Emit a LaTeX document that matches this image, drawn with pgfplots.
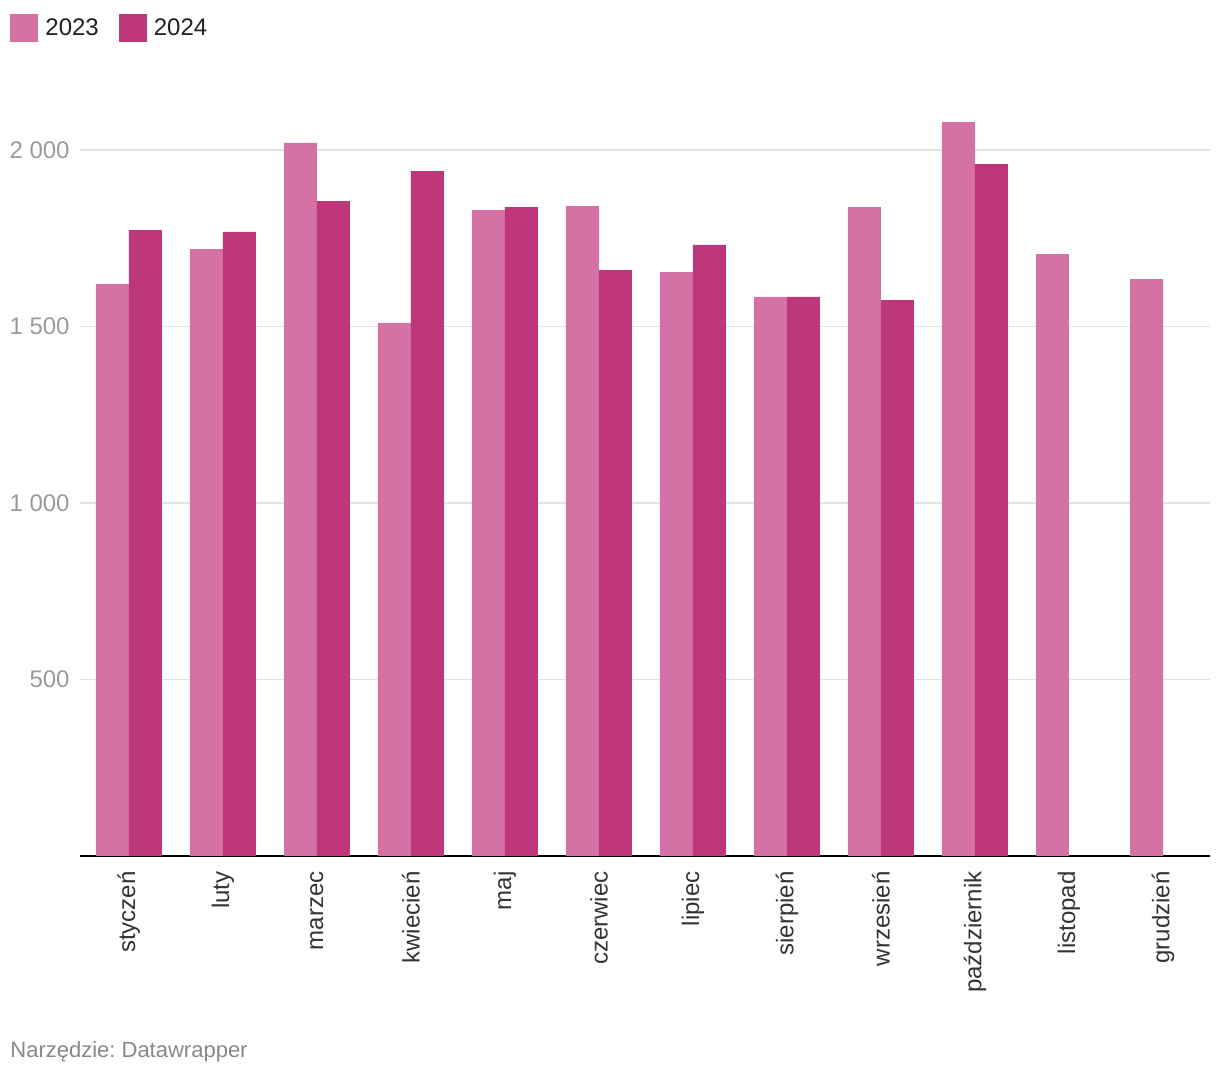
\documentclass[border=0pt]{standalone}
\usepackage{pgfplots}
\pgfplotsset{compat=1.18}
\usepackage{fontspec}
\setmainfont{Liberation Sans}
\frenchspacing
\definecolor{c23}{HTML}{D472A5}
\definecolor{c24}{HTML}{BF377B}
\definecolor{gridc}{HTML}{E3E3E3}
\definecolor{ylab}{HTML}{9A9A9A}
\definecolor{xlab}{HTML}{333333}
\definecolor{foot}{HTML}{888888}
\begin{document}
\begin{tikzpicture}
\begin{axis}[
  at={(40pt,110pt)}, anchor=south west,
  scale only axis,
  width=565pt, height=388.3pt,
  xmin=-0.52, xmax=11.5,
  ymin=0, ymax=2200,
  ybar=0pt, bar width=16.5pt,
  axis x line*=bottom, axis y line*=left,
  y axis line style={draw=none},
  x axis line style={black, line width=1pt, -},
  major tick length=0pt,
  xtick={0,1,2,3,4,5,6,7,8,9,10,11},
  xticklabels={styczeń,luty,marzec,kwiecień,maj,czerwiec,lipiec,sierpień,wrzesień,październik,listopad,grudzień},
  xticklabel style={rotate=90, anchor=east, inner sep=0pt, font=\fontsize{12}{14}\selectfont, text=xlab, xshift=-7.5pt},
  ytick={500,1000,1500,2000},
  yticklabels={500,1 000,1 500,2 000},
  yticklabel style={anchor=east, inner sep=0pt, font=\fontsize{12}{14}\selectfont, text=ylab, xshift=-5pt},
  ymajorgrids,
  grid style={gridc, line width=0.6pt},
  legend columns=2,
  legend image code/.code={\fill[#1] (0pt,-7pt) rectangle (14pt,7pt);},
  legend style={at={(-0.0619,1.0842)}, anchor=north west, draw=none, fill=none, inner sep=0pt,
    font=\fontsize{12}{14}\selectfont, text=black!87,
    nodes={inner sep=0pt, anchor=west},
    /tikz/every odd column/.append style={column sep=3.5pt},
    /tikz/every even column/.append style={column sep=10pt}},
]
\addplot[fill=c23, draw=none] coordinates {
 (0,1620) (1,1719) (2,2020) (3,1510) (4,1830) (5,1841) (6,1654) (7,1584) (8,1838) (9,2079) (10,1705) (11,1634)};
\addplot[fill=c24, draw=none] coordinates {
 (0,1773) (1,1768) (2,1855) (3,1940) (4,1838) (5,1660) (6,1731) (7,1584) (8,1575) (9,1960)};
\legend{2023,2024}
\end{axis}
\node[anchor=west, inner sep=0pt, text=foot, font=\fontsize{11}{13}\selectfont] at (5pt,12pt) {Narzędzie: Datawrapper};
\pgfresetboundingbox
\useasboundingbox (0,0) rectangle (610pt,538pt);
\end{tikzpicture}
\end{document}
